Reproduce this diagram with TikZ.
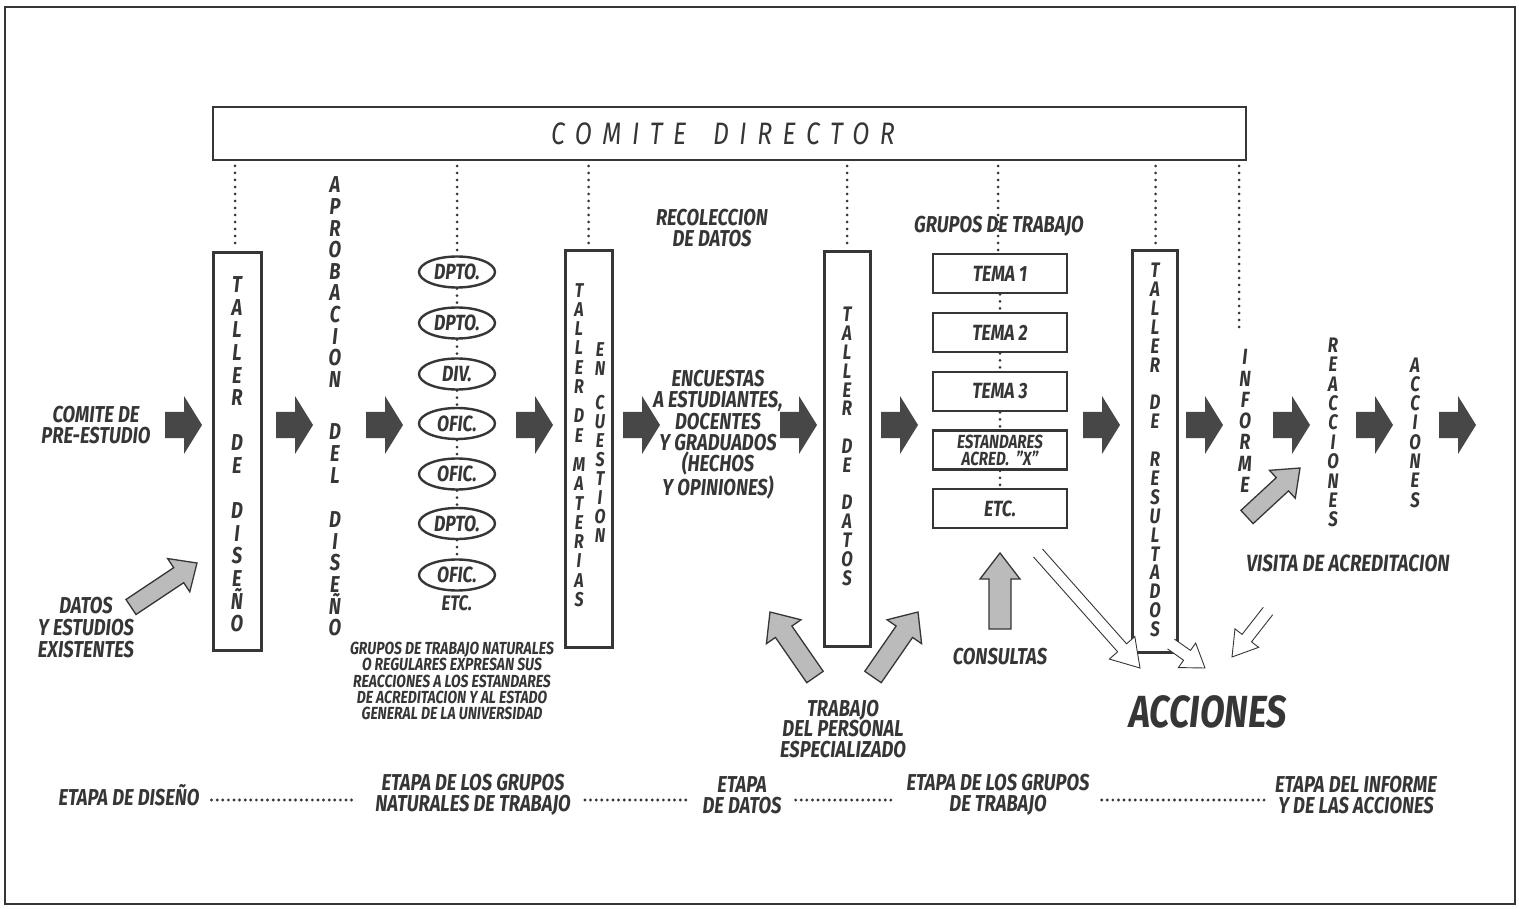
\documentclass[tikz,border=0pt]{standalone}
\usepackage{fontspec}
\setmainfont{Fira Sans}[FakeStretch=0.8]
\usetikzlibrary{calc,shapes.geometric}
\definecolor{ink}{HTML}{363636}
\definecolor{blk}{HTML}{474747}
\definecolor{shade}{HTML}{BBBBBB}
\newcommand\tf[2]{\fontsize{#1}{#2}\selectfont\bfseries\itshape}
% tail, tip, shaft half width, head half width, head length, style
\newcommand\fatarr[6]{%
  \coordinate (#1-n) at ($(#2)!#5!(#1)$);
  \path[#6] ($(#1)!#3!90:(#2)$) -- ($(#1-n)!#3!90:(#2)$) -- ($(#1-n)!#4!90:(#2)$) -- (#2)
    -- ($(#1-n)!#4!-90:(#2)$) -- ($(#1-n)!#3!-90:(#2)$) -- ($(#1)!#3!-90:(#2)$) -- cycle;}
\newcommand\openarr[5]{%
  \coordinate (#1-n) at ($(#2)!#5!(#1)$);
  \draw[warr] ($(#1)!#3!90:(#2)$) -- ($(#1-n)!#3!90:(#2)$) -- ($(#1-n)!#4!90:(#2)$) -- (#2)
    -- ($(#1-n)!#4!-90:(#2)$) -- ($(#1-n)!#3!-90:(#2)$) -- ($(#1)!#3!-90:(#2)$);}
\begin{document}
\begin{tikzpicture}[x=1pt,y=-1pt,
  txt/.style={text=ink, inner sep=0pt, align=center},
  vbox/.style={draw=ink, line width=3pt, minimum width=#1, inner sep=0pt},
  tbox/.style={draw=ink, line width=2.6pt, minimum width=134pt, minimum height=39pt, inner sep=0pt, text=ink, font=\tf{22}{16}, align=center},
  oval/.style={ellipse, draw=ink, line width=2.4pt, minimum width=76pt, minimum height=31pt, inner sep=0pt, text=ink, font=\tf{22}{18}},
  dotv/.style={draw=ink, line width=3pt, dash pattern=on 0pt off 7pt, line cap=round},
  leader/.style={draw=ink, line width=3.2pt, dash pattern=on 0pt off 5.6pt, line cap=round},
  warr/.style={draw=ink, line width=0.9pt, fill=white, line join=miter},
  sarr/.style={fill=shade, draw=ink, line width=1.3pt, line join=miter},
  barr/.style={fill=blk}]
\useasboundingbox (0,0) rectangle (1519,909);
\fill[white] (0,0) rectangle (1519,909);
\draw[draw=ink, line width=2.6pt] (5,7) rectangle (1515,904);

% Comite director
\node[draw=ink, line width=2pt, minimum width=1033pt, minimum height=53pt, inner sep=0pt] (cd) at (729.5,133.5) {};
\node[txt, font=\fontsize{31}{31}\selectfont\itshape\addfontfeature{LetterSpace=34}] (cdt) at (723,134) {COMITE\hspace{10pt} DIRECTOR};

% big vertical boxes
\node[vbox=48pt, minimum height=397pt] (bD) at (237,451.5) {};
\node[vbox=47pt, minimum height=397pt] (bM) at (588.5,449) {};
\node[vbox=46pt, minimum height=395pt] (bDa) at (847,449) {};
\node[vbox=45pt, minimum height=401pt] (bR) at (1154.5,451.5) {};

% vertical texts
\node[txt, font=\tf{23}{22.6}] (vD) at (237,454.5) {T\\A\\L\\L\\E\\R\\[22.6pt]D\\E\\[22.6pt]D\\I\\S\\E\\Ñ\\O};
\node[txt, font=\tf{23}{21.6}] (vA) at (335,406.5) {A\\P\\R\\O\\B\\A\\C\\I\\O\\N\\[31pt]D\\E\\L\\[23pt]D\\I\\S\\E\\Ñ\\O};
\node[txt, font=\tf{20}{19.3}] (vM1) at (579,445) {T\\A\\L\\L\\E\\R\\[10pt]D\\E\\[10pt]M\\A\\T\\E\\R\\I\\A\\S};
\node[txt, font=\tf{20}{19}] (vM2) at (600,443) {E\\N\\[15pt]C\\U\\E\\S\\T\\I\\O\\N};
\node[txt, font=\tf{21}{18.8}] (vDa) at (847,446.5) {T\\A\\L\\L\\E\\R\\[18.8pt]D\\E\\[18.8pt]D\\A\\T\\O\\S};
\node[txt, font=\tf{21}{18.9}] (vR) at (1155,450) {T\\A\\L\\L\\E\\R\\[18.9pt]D\\E\\[18.9pt]R\\E\\S\\U\\L\\T\\A\\D\\O\\S};
\node[txt, font=\tf{22}{21.3}] (inf) at (1245,421) {I\\N\\F\\O\\R\\M\\E};
\node[txt, font=\tf{21}{19.4}] (rea) at (1333,432.5) {R\\E\\A\\C\\C\\I\\O\\N\\E\\S};
\node[txt, font=\tf{21}{19.3}] (acv) at (1415,432.5) {A\\C\\C\\I\\O\\N\\E\\S};

% ovals
\node[oval] (o1) at (457,272) {DPTO.};
\node[oval] (o2) at (457,323) {DPTO.};
\node[oval] (o3) at (457,374) {DIV.};
\node[oval] (o4) at (457,423.5) {OFIC.};
\node[oval] (o5) at (457,474) {OFIC.};
\node[oval] (o6) at (457,523.5) {DPTO.};
\node[oval] (o7) at (457,575) {OFIC.};
\node[txt, font=\tf{21}{21}] (etc) at (457,603) {ETC.};
\foreach \a/\b in {o1/o2,o2/o3,o3/o4,o4/o5,o5/o6,o6/o7}
  \draw[dotv] (\a.south) -- (\b.north);

% tema boxes
\node[txt, font=\tf{23}{21}] (gdt) at (999,226) {GRUPOS DE TRABAJO};
\node[tbox] (t1) at (1000,273.5) {TEMA 1};
\node[tbox] (t2) at (1000,332.5) {TEMA 2};
\node[tbox] (t3) at (1000,391.5) {TEMA 3};
\node[tbox, font=\tf{19}{17}] (t4) at (1000,450) {ESTANDARES\\ACRED. \ "X"};
\node[tbox] (t5) at (1000,508.5) {ETC.};
\foreach \a/\b in {t1/t2,t2/t3,t3/t4,t4/t5}
  \draw[dotv] (\a.south) -- (\b.north);

% dotted lines from comite director
\coordinate (infdot) at (1239,332);
\draw[dotv] ($(cd.south -| bD.north)+(-2,5)$) -- ($(bD.north)+(-2,-3)$);
\draw[dotv] ($(cd.south -| o1.north)+(0,5)$) -- ($(o1.north)+(0,-2)$);
\draw[dotv] ($(cd.south -| bM.north)+(0,5)$) -- ($(bM.north)+(0,-3)$);
\draw[dotv] ($(cd.south -| bDa.north)+(0,5)$) -- ($(bDa.north)+(0,-3)$);
\draw[dotv] ($(cd.south -| t1.north)+(-2,5)$) -- ($(t1.north)+(-2,-2)$);
\draw[dotv] ($(cd.south -| bR.north)+(1,5)$) -- ($(bR.north)+(1,-3)$);
\draw[dotv] ($(cd.south -| infdot)+(0,5)$) -- (infdot);

% other texts
\node[txt, font=\tf{23}{21}] (cpe) at (96,425) {COMITE DE\\PRE-ESTUDIO};
\node[txt, font=\tf{23}{22}] (dat) at (86,628) {DATOS\\Y ESTUDIOS\\EXISTENTES};
\node[txt, font=\tf{17.5}{16.3}] (gtn) at (452,681) {GRUPOS DE TRABAJO NATURALES\\O REGULARES EXPRESAN SUS\\REACCIONES A LOS ESTANDARES\\DE ACREDITACION Y AL ESTADO\\GENERAL DE LA UNIVERSIDAD};
\node[txt, font=\tf{23}{21}] (rec) at (712,228) {RECOLECCION\\DE DATOS};
\node[txt, font=\tf{23}{21.2}] (enc) at (718,435) {ENCUESTAS\\A ESTUDIANTES,\\DOCENTES\\Y GRADUADOS\\(HECHOS\\Y OPINIONES)};
\node[txt, font=\tf{23}{20.5}] (trab) at (843,729) {TRABAJO\\DEL PERSONAL\\ESPECIALIZADO};
\node[txt, font=\tf{23}{21}] (cons) at (1000,657) {CONSULTAS};
\node[txt, font=\tf{23.5}{21}] (vis) at (1348,563) {VISITA DE ACREDITACION};
\node[txt, font=\tf{45}{50}] (acc) at (1208,712) {ACCIONES};

% bottom stages
\node[txt, font=\tf{23}{21}] (e1) at (129,795) {ETAPA DE DISEÑO};
\node[txt, font=\tf{23}{21}] (e2) at (473,795) {ETAPA DE LOS GRUPOS\\NATURALES DE TRABAJO};
\node[txt, font=\tf{23}{21}] (e3) at (742,795) {ETAPA\\DE DATOS};
\node[txt, font=\tf{23}{21}] (e4) at (998,795) {ETAPA DE LOS GRUPOS\\DE TRABAJO};
\node[txt, font=\tf{23}{21}] (e5) at (1356,795) {ETAPA DEL INFORME\\Y DE LAS ACCIONES};
\draw[leader] ($(e1.east)+(12,5)$) -- ($(e2.west)+(-18,5)$);
\draw[leader] ($(e2.east)+(14,5)$) -- ($(e3.west)+(-14,5)$);
\draw[leader] ($(e3.east)+(14,5)$) -- ($(e4.west)+(-12,5)$);
\draw[leader] ($(e4.east)+(12,5)$) -- ($(e5.west)+(-10,5)$);

% dark block arrows
\foreach \x [count=\i] in {202,313,403,553,660,817,918,1120,1223,1310,1393,1476}{
  \coordinate (ht\i) at (\x-37,425);
  \coordinate (hh\i) at (\x,425);
  \fatarr{ht\i}{hh\i}{13pt}{29pt}{18pt}{barr}
}

% shaded arrows
\coordinate (s1t) at (131,607); \coordinate (s1h) at (197,563);
\fatarr{s1t}{s1h}{9pt}{20pt}{22pt}{sarr}
\coordinate (s2t) at (815,677); \coordinate (s2h) at (770,612);
\fatarr{s2t}{s2h}{10pt}{21pt}{24pt}{sarr}
\coordinate (s3t) at (873,677); \coordinate (s3h) at (918,612);
\fatarr{s3t}{s3h}{10pt}{21pt}{24pt}{sarr}
\coordinate (s4t) at (1000,629); \coordinate (s4h) at (1000,553);
\fatarr{s4t}{s4h}{11pt}{20pt}{26pt}{sarr}
\coordinate (s5t) at (1247,517); \coordinate (s5h) at (1300,468);
\fatarr{s5t}{s5h}{9pt}{19pt}{24pt}{sarr}

% white open arrows towards ACCIONES
\coordinate (w1t) at (1038,553); \coordinate (w1h) at (1140,668);
\openarr{w1t}{w1h}{6pt}{17pt}{27pt}
\coordinate (w2t) at (1171,644); \coordinate (w2h) at (1205,668);
\openarr{w2t}{w2h}{6pt}{15pt}{22pt}
\coordinate (w3t) at (1268,611); \coordinate (w3h) at (1232,657);
\openarr{w3t}{w3h}{6pt}{15pt}{24pt}
\end{tikzpicture}
\end{document}
